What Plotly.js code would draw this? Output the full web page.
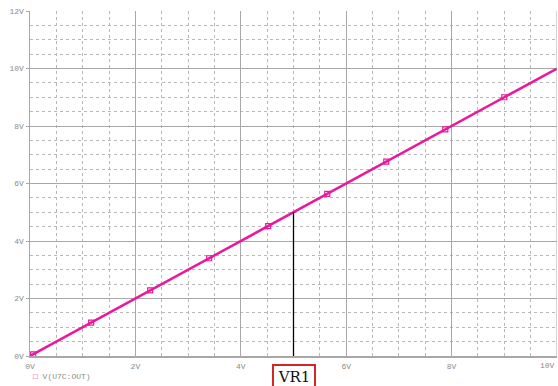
<!DOCTYPE html>
<html>
<head>
<meta charset="utf-8">
<script src="https://cdn.plot.ly/plotly-3.0.1.min.js"></script>
<style>html,body{margin:0;padding:0;background:#fff;}#chart{width:558px;height:386px;}</style>
</head>
<body>
<div id="chart"></div>
<script>
// Sweep of VR1 (V) and output V(U7C:OUT) (V)
const sweepX = [0, 1, 2, 3, 4, 5, 6, 7, 8, 9, 10];
const outY   = [0, 1, 2, 3, 4, 5, 6, 7, 8, 9, 10];
// marker sample points
const markX = [0.06, 1.16, 2.28, 3.40, 4.52, 5.64, 6.76, 7.88, 9.00];
const markY = [0.06, 1.16, 2.28, 3.40, 4.52, 5.64, 6.76, 7.88, 9.00];
const cursorX = 5;
const cursorY = 5;
const seriesName = 'V(U7C:OUT)';
const cursorLabel = 'VR1';
const xTickVals = [0, 2, 4, 6, 8, 10];
const xTickText = ['0V', '2V', '4V', '6V', '8V', '10V'];
const yTickVals = [0, 2, 4, 6, 8, 10, 12];
const yTickText = ['0V', '2V', '4V', '6V', '8V', '10V', '12V'];

const pink = '#e8199c';
const tickFont = {family: '"Liberation Mono", "DejaVu Sans Mono", monospace', size: 8, color: '#8a8a8a'};

const traces = [
  {x: sweepX, y: outY, type: 'scatter', mode: 'lines', line: {color: pink, width: 2.5}, showlegend: false, hoverinfo: 'skip'},
  {x: markX, y: markY, type: 'scatter', mode: 'markers', marker: {symbol: 'square-open', size: 5, color: pink, line: {width: 1.2, color: pink}}, showlegend: false},
  {x: [cursorX, cursorX], y: [0, cursorY], type: 'scatter', mode: 'lines', line: {color: '#000', width: 1.3}, showlegend: false}
];

// last x label sits at the right edge, right-aligned
const lastIdx = xTickVals.length - 1;

const layout = {
  width: 558, height: 386,
  margin: {l: 30, r: 1, t: 11, b: 30, pad: 0},
  paper_bgcolor: '#fff', plot_bgcolor: '#fff',
  xaxis: {
    range: [0, 10], tickvals: xTickVals.slice(0, lastIdx), ticktext: xTickText.slice(0, lastIdx),
    showgrid: true, gridcolor: '#a8a8a8', gridwidth: 1,
    minor: {dtick: 0.5, showgrid: true, gridcolor: '#b8b8b8', griddash: '3px,3px', gridwidth: 1},
    showline: true, linecolor: '#a8a8a8', linewidth: 1.5,
    zeroline: false, ticks: '', tickfont: tickFont, ticklabelstandoff: 2
  },
  yaxis: {
    range: [0, 12], tickvals: yTickVals, ticktext: yTickText,
    showgrid: true, gridcolor: '#a8a8a8', gridwidth: 1,
    minor: {dtick: 0.5, showgrid: true, gridcolor: '#b8b8b8', griddash: '3px,3px', gridwidth: 1},
    showline: true, linecolor: '#a8a8a8', linewidth: 1.5,
    zeroline: false, ticks: 'outside', ticklen: 3, tickcolor: '#a8a8a8', tickfont: tickFont
  },
  shapes: [
    {type: 'line', xref: 'x', yref: 'paper', x0: xTickVals[lastIdx], x1: xTickVals[lastIdx], y0: 0, y1: 1,
     line: {color: '#a8a8a8', width: 1}}
  ],
  annotations: [
    {x: xTickVals[lastIdx], xref: 'x', y: 0, yref: 'paper', xanchor: 'right', yanchor: 'top', yshift: -3,
     text: xTickText[lastIdx], showarrow: false, font: tickFont},
    {x: cursorX, xref: 'x', y: -0.022, yref: 'paper', yanchor: 'top', text: cursorLabel, showarrow: false,
     font: {family: '"DejaVu Serif", "Liberation Serif", serif', size: 15, color: '#111'},
     bordercolor: '#d02828', borderwidth: 2, borderpad: 2, bgcolor: '#fff', width: 36},
    {x: 0.002, xref: 'paper', y: -0.04, yref: 'paper', xanchor: 'left', yanchor: 'top',
     text: '<span style="color:' + pink + '">\u25a1</span> ' + seriesName, showarrow: false,
     font: {family: '"Liberation Mono", "DejaVu Sans Mono", monospace', size: 8, color: '#8a8a8a'}}
  ]
};

Plotly.newPlot('chart', traces, layout, {displayModeBar: false, staticPlot: true});
</script>
</body>
</html>
